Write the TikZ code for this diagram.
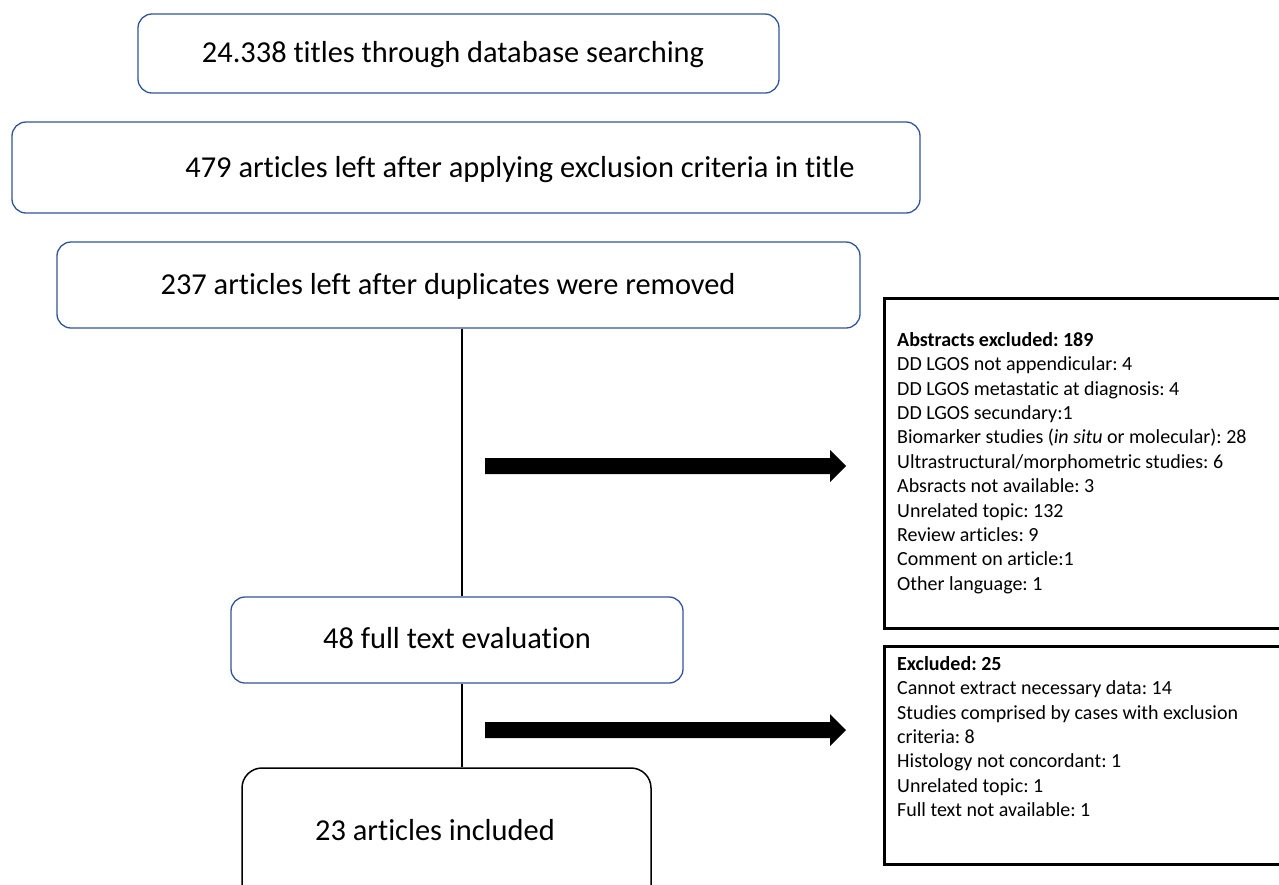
\documentclass[tikz,border=0pt]{standalone}
\usepackage{fontspec}
\setmainfont{Carlito}[Ligatures={NoCommon}]
\usetikzlibrary{calc}
\definecolor{boxblue}{HTML}{2F5597}
\frenchspacing
\begin{document}
\begin{tikzpicture}[x=1pt,y=-1pt,
  bluebox/.style={draw=boxblue,line width=1.3pt,rounded corners=14pt,inner sep=0pt},
  blackbox/.style={draw=black,line width=1.5pt,rounded corners=20pt,inner sep=0pt},
  sidebox/.style={draw=black,line width=2.6pt,inner sep=0pt},
  bigtxt/.style={font=\fontsize{30.4}{36}\selectfont,inner sep=0pt},
  sidetxt/.style={font=\fontsize{20}{24.4}\selectfont,align=left,inner sep=0pt,anchor=north west},
  conn/.style={draw=black,line width=1.3pt}]
\useasboundingbox (0,0) rectangle (1279,884);
% left flow boxes
\node[bluebox,minimum width=641,minimum height=79] (b1) at (458.5,53.5) {};
\node[bigtxt] (t1) at (453,55) {24.338 titles through database searching};
\node[bluebox,minimum width=908,minimum height=91] (b2) at (466,167.5) {};
\node[bigtxt] (t2) at (520,170) {479 articles left after applying exclusion criteria in title};
\node[bluebox,minimum width=803,minimum height=86] (b3) at (458.5,285) {};
\node[bigtxt] (t3) at (448,286) {237 articles left after duplicates were removed};
\node[bluebox,minimum width=452,minimum height=86] (b4) at (457,640) {};
\node[bigtxt] (t4) at (457,638) {48 full text evaluation};
\node[blackbox,minimum width=409,minimum height=140] (b5) at (446.5,838) {};
\node[bigtxt] (t5) at (435,830) {23 articles included};
% connectors
\coordinate (L) at (462,0);
\draw[conn] (b3.south -| L) -- (b4.north -| L);
\draw[conn] (b4.south -| L) -- (b5.north -| L);
% side boxes
\node[sidebox,minimum width=396,minimum height=330,anchor=north west] (s1) at (883,297) {};
\node[sidetxt] (st1) at (897,332) {\textbf{Abstracts excluded: 189}\\
DD LGOS not appendicular: 4\\
DD LGOS metastatic at diagnosis: 4\\
DD LGOS secundary:1\\
Biomarker studies (\textit{in situ} or molecular): 28\\
Ultrastructural/morphometric studies: 6\\
Absracts not available: 3\\
Unrelated topic: 132\\
Review articles: 9\\
Comment on article:1\\
Other language: 1};
\node[sidebox,minimum width=396,minimum height=218,anchor=north west] (s2) at (883,645) {};
\node[sidetxt] (st2) at (897,656) {\textbf{Excluded: 25}\\
Cannot extract necessary data: 14\\
Studies comprised by cases with exclusion\\
criteria: 8\\
Histology not concordant: 1\\
Unrelated topic: 1\\
Full text not available: 1};
% block arrows
\coordinate (a1) at (485,466);
\coordinate (a2) at (485,730);
\foreach \a in {a1,a2}{
  \fill[black] ($(\a)+(0,-8)$) -- ++(345,0) -- ++(0,-8) -- ($(\a)+(361,0)$) -- ($(\a)+(345,16)$) -- ++(0,-8) -- ($(\a)+(0,8)$) -- cycle;
}
\end{tikzpicture}
\end{document}
